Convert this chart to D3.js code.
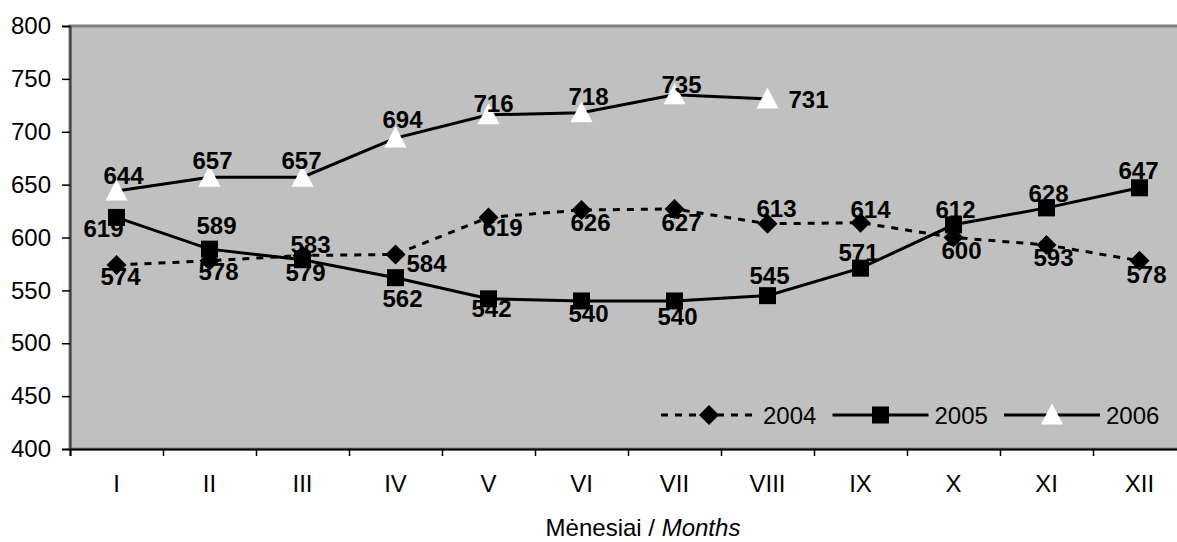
<!DOCTYPE html>
<html>
<head>
<meta charset="utf-8">
<script src="https://cdn.jsdelivr.net/npm/d3@7"></script>
<style>
  html, body { margin: 0; padding: 0; background: #ffffff; }
  svg { display: block; }
  text { font-family: "Liberation Sans", Arial, sans-serif; }
</style>
</head>
<body>
<svg id="chart" width="1177" height="542"></svg>
<script>
// ---------- data ----------
const months = ["I", "II", "III", "IV", "V", "VI", "VII", "VIII", "IX", "X", "XI", "XII"];
const values2004 = [574, 578, 583, 584, 619, 626, 627, 613, 614, 600, 593, 578];
const values2005 = [619, 589, 579, 562, 542, 540, 540, 545, 571, 612, 628, 647];
const values2006 = [644, 657, 657, 694, 716, 718, 735, 731];
const seriesNames = ["2004", "2005", "2006"];
const yTicks = [400, 450, 500, 550, 600, 650, 700, 750, 800];
const axisTitleMain = "Mėnesiai / ";
const axisTitleItalic = "Months";

// label placement offsets (relative to each point: [dx, dy of baseline])
const labelOffsets2004 = [[4,20],[9,19],[8,-2],[31,18],[14,19],[9,21],[7,22],[9,-7],[10,-5],[8,21],[7,21],[7,22]];
const labelOffsets2005 = [[-13,20],[7,-15],[3,21],[7,29],[3,18],[7,21],[3,24],[2,-12],[-2,-7],[2,-7],[2,-6],[-1,-9]];
const labelOffsets2006 = [[7,-7],[3,-8],[-1,-8],[7,-10],[5,-3],[7,-8],[7,-2],[41,9]];

// ---------- layout ----------
const plot = { left: 70, top: 26, right: 1186, bottom: 449 };
const svg = d3.select("#chart");

const x = d3.scaleBand().domain(months).range([plot.left, plot.right]).padding(0);
const xEdges = d3.scaleLinear().domain([0, months.length]).range([plot.left, plot.right]);
const y = d3.scaleLinear().domain([400, 800]).range([plot.bottom, plot.top]);
const cx = m => x(m) + x.bandwidth() / 2;

// plot background
svg.append("rect")
  .attr("x", plot.left).attr("y", plot.top)
  .attr("width", plot.right - plot.left).attr("height", plot.bottom - plot.top)
  .attr("fill", "#c0c0c0")
  .attr("stroke", "#808080").attr("stroke-width", 3);

// y axis
const yAxis = svg.append("g")
  .attr("transform", `translate(${plot.left},0)`)
  .call(d3.axisLeft(y).tickValues(yTicks).tickSize(8).tickPadding(11).tickFormat(d3.format("d")));
yAxis.select(".domain").attr("stroke", "#404040").attr("stroke-width", 2);
yAxis.selectAll(".tick line").attr("stroke", "#000").attr("stroke-width", 1.5);
yAxis.selectAll(".tick text").attr("font-size", 24).attr("fill", "#000")
  .style("font-family", "'Liberation Sans', Arial, sans-serif");

// x axis: edge ticks
const xTickAxis = svg.append("g")
  .attr("transform", `translate(0,${plot.bottom})`)
  .call(d3.axisBottom(xEdges).tickValues(d3.range(0, months.length + 1)).tickSize(7).tickFormat(""));
xTickAxis.select(".domain").attr("stroke", "#000").attr("stroke-width", 2);
xTickAxis.selectAll(".tick line").attr("stroke", "#000").attr("stroke-width", 1.5);

// x axis: category labels
const xLabelAxis = svg.append("g")
  .attr("transform", `translate(0,${plot.bottom})`)
  .call(d3.axisBottom(x).tickSize(0).tickPadding(26));
xLabelAxis.select(".domain").remove();
xLabelAxis.selectAll(".tick text").attr("font-size", 24).attr("fill", "#000")
  .style("font-family", "'Liberation Sans', Arial, sans-serif");

// axis title
const title = svg.append("text")
  .attr("x", 643).attr("y", 536)
  .attr("text-anchor", "middle")
  .attr("font-size", 24).attr("fill", "#000");
title.append("tspan").text(axisTitleMain);
title.append("tspan").attr("font-style", "italic").text(axisTitleItalic);

// ---------- markers ----------
function diamondPath(r) { return `M0,${-r}L${r},0L0,${r}L${-r},0Z`; }
function squarePath(s) { const h = s / 2; return `M${-h},${-h}H${h}V${h}H${-h}Z`; }
function trianglePath(w, h) { return `M0,${-h * 0.55}L${w / 2},${h * 0.45}L${-w / 2},${h * 0.45}Z`; }

const series = [
  { name: seriesNames[0], values: values2004, offsets: labelOffsets2004, dash: "7,7",
    marker: diamondPath(10), fill: "#000" },
  { name: seriesNames[1], values: values2005, offsets: labelOffsets2005, dash: null,
    marker: squarePath(17), fill: "#000" },
  { name: seriesNames[2], values: values2006, offsets: labelOffsets2006, dash: null,
    marker: trianglePath(22, 21), fill: "#fff" }
];

const line = d3.line().x(d => cx(d.m)).y(d => y(d.v));

series.forEach(s => {
  const pts = s.values.map((v, i) => ({ m: months[i], v: v, off: s.offsets[i] }));
  s.pts = pts;
  const g = svg.append("g");
  g.append("path")
    .datum(pts)
    .attr("d", line)
    .attr("fill", "none")
    .attr("stroke", "#000")
    .attr("stroke-width", 3)
    .attr("stroke-dasharray", s.dash);
  g.selectAll("path.mk")
    .data(pts).enter().append("path")
    .attr("class", "mk")
    .attr("d", s.marker)
    .attr("transform", d => `translate(${cx(d.m)},${y(d.v)})`)
    .attr("fill", s.fill);
});

// data labels on top
series.forEach(s => {
  svg.append("g").selectAll("text")
    .data(s.pts).enter().append("text")
    .attr("x", d => cx(d.m) + d.off[0])
    .attr("y", d => y(d.v) + d.off[1])
    .attr("text-anchor", "middle")
    .attr("font-size", 24).attr("font-weight", "bold").attr("fill", "#000")
    .text(d => d.v);
});

// ---------- legend ----------
const legendX = 661, legendY = 415, legendStep = 171.5, legendLine = 96;
const legend = svg.append("g").attr("transform", `translate(${legendX},${legendY})`);
series.forEach((s, i) => {
  const g = legend.append("g").attr("transform", `translate(${i * legendStep},0)`);
  g.append("line")
    .attr("x1", 0).attr("x2", legendLine).attr("y1", 0).attr("y2", 0)
    .attr("stroke", "#000").attr("stroke-width", 3)
    .attr("stroke-dasharray", s.dash);
  g.append("path")
    .attr("d", s.marker)
    .attr("transform", `translate(${legendLine / 2},0)`)
    .attr("fill", s.fill);
  g.append("text")
    .attr("x", legendLine + 6).attr("y", 9)
    .attr("font-size", 24).attr("fill", "#000")
    .text(s.name);
});
</script>
</body>
</html>
